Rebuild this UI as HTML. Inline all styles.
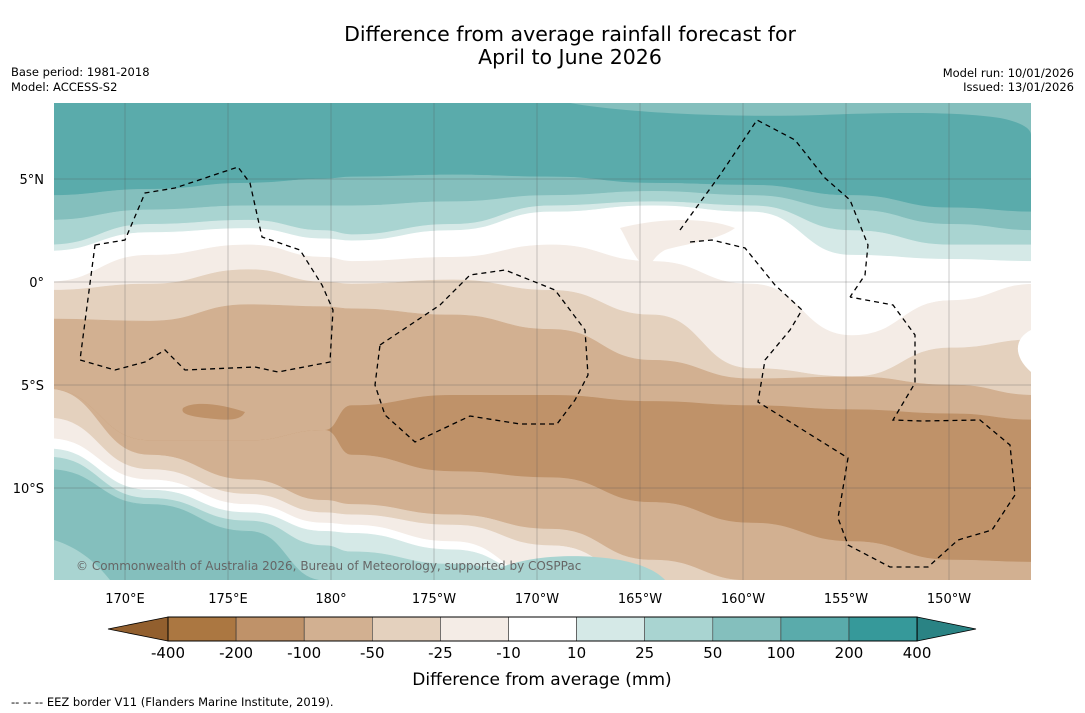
<!DOCTYPE html>
<html><head><meta charset="utf-8"><style>
body{margin:0;background:#fff;width:1085px;height:713px;overflow:hidden;font-family:"DejaVu Sans","Liberation Sans",sans-serif}
svg{display:block}
</style></head><body>
<svg id="chart" width="1085" height="713" viewBox="0 0 1085 713" xmlns="http://www.w3.org/2000/svg">
<text x="570" y="41" font-size="20.5" text-anchor="middle" fill="#000">Difference from average rainfall forecast for</text>
<text x="570" y="64" font-size="20.5" text-anchor="middle" fill="#000">April to June 2026</text>
<text x="11" y="76" font-size="11.5">Base period: 1981-2018</text>
<text x="11" y="91" font-size="11.5">Model: ACCESS-S2</text>
<text x="1074" y="77" font-size="11.5" text-anchor="end">Model run: 10/01/2026</text>
<text x="1074" y="91" font-size="11.5" text-anchor="end">Issued: 13/01/2026</text>
<defs><clipPath id="mapclip"><rect x="54" y="103" width="977" height="477"/></clipPath></defs>
<g id="map" clip-path="url(#mapclip)"></g>
<g id="axes"></g>
<g id="cbar"></g>
<text x="542" y="685" font-size="17" text-anchor="middle">Difference from average (mm)</text>
<text x="11" y="706" font-size="11.5">--  --  -- EEZ border V11 (Flanders Marine Institute, 2019).</text>
</svg>
<script>
const NS="http://www.w3.org/2000/svg";
// colour scale data
const levels=[-400,-200,-100,-50,-25,-10,10,25,50,100,200,400];
const levelColors=["#ab7741","#bf9269","#d2b091","#e4d1be","#f4ece6","#ffffff","#d5e9e7","#a9d4d1","#84bfbd","#5aabab","#36999a"];
// contour field: boundary latitudes (deg) at sample longitudes (deg east, 0-360)
const lons=[166.5,171.2,176,179.7,181,185.9,190.7,195.6,200.4,205.3,210.1,214];
const bandColorIdx=[9,8,7,6,5,4,3,2,1,2,3,4,5,6,7,8];
const boundaries=[
[4.2,4.5,4.8,5.0,5.1,5.2,5.1,4.8,4.7,4.2,3.6,3.4],
[3.0,3.5,3.7,3.7,3.7,3.9,4.2,4.4,4.2,3.5,2.8,2.5],
[1.8,2.8,3.0,2.5,2.3,2.8,3.7,3.9,3.7,2.5,1.8,1.8],
[1.5,2.4,2.6,2.1,2.0,2.5,3.4,3.7,3.4,1.3,1.1,1.0],
[0.0,1.3,1.8,1.2,1.0,1.2,1.8,1.0,-0.1,-2.6,-0.9,-0.1],
[-0.4,-0.1,0.6,0.0,-0.1,0.1,-0.4,-1.6,-4.2,-4.6,-3.2,-2.8],
[-1.8,-1.9,-1.1,-1.2,-1.3,-1.6,-2.3,-3.8,-4.7,-4.6,-5.0,-5.5],
[-5.2,-7.7,-7.7,-7.2,-6.0,-5.5,-5.5,-5.8,-6.0,-6.2,-6.4,-6.7],
[-5.2,-7.7,-7.7,-7.2,-8.4,-9.2,-9.5,-10.7,-11.7,-12.6,-13.5,-13.6],
[-5.2,-8.4,-9.6,-10.6,-10.8,-11.3,-12.0,-13.5,-14.5,-14.5,-14.5,-14.5],
[-6.6,-9.1,-10.3,-11.2,-11.3,-11.8,-12.8,-14.5,-14.5,-14.5,-14.5,-14.5],
[-7.6,-9.6,-10.8,-11.7,-11.8,-12.6,-14.5,-14.5,-14.5,-14.5,-14.5,-14.5],
[-8.1,-10.1,-11.2,-12.1,-12.2,-13.0,-14.5,-14.5,-14.5,-14.5,-14.5,-14.5],
[-8.5,-10.5,-11.6,-12.8,-13.1,-13.7,-14.5,-14.5,-14.5,-14.5,-14.5,-14.5],
[-9.1,-10.8,-12.1,-14.5,-14.5,-14.5,-14.5,-14.5,-14.5,-14.5,-14.5,-14.5]
];
const lonTicks=[170,175,180,185,190,195,200,205,210];
const lonLabels=["170°E","175°E","180°","175°W","170°W","165°W","160°W","155°W","150°W"];
const latTicks=[5,0,-5,-10];
const latLabels=["5°N","0°","5°S","10°S"];
// axis functions
const X=lon=>125+(lon-170)*20.6;
const Y=lat=>282-lat*20.6;
const mapG=document.getElementById('map');
function mk(tag,attrs,parent){const e=document.createElementNS(NS,tag);for(const k in attrs)e.setAttribute(k,attrs[k]);parent.appendChild(e);return e;}
function smooth(pts){let d="";for(let i=0;i<pts.length;i++){const p=pts[i];if(i===0){d+="M"+p[0]+","+p[1];continue;}const p0=pts[i-1];const mx=(p0[0]+p[0])/2;d+=" C"+mx+","+p0[1]+" "+mx+","+p[1]+" "+p[0]+","+p[1];}return d;}
const topEdge=lons.map(l=>[X(l),Y(9)]);
const botEdge=lons.map(l=>[X(l),Y(-16)]);
const edges=[topEdge].concat(boundaries.map(b=>b.map((v,i)=>[X(lons[i]),Y(v)]))).concat([botEdge]);
for(let b=0;b<edges.length-1;b++){
  const up=edges[b].map(p=>[p[0],p[1]]);const dn=edges[b+1].map(p=>[p[0],p[1]]);
  up[0][0]-=5;up[up.length-1][0]+=5;dn[0][0]-=5;dn[dn.length-1][0]+=5;
  let d=smooth(up);const rev=dn.slice().reverse();
  d+=" L"+rev[0][0]+","+rev[0][1]+smooth(rev).replace(/^M[^ ]+/,"")+" Z";
  const p=mk('path',{d:d,fill:levelColors[bandColorIdx[b]],stroke:levelColors[bandColorIdx[b]],'stroke-width':0.6},mapG);
  
  
}
// extra patches
const patches=[
 {c:8,d:"M570,103 C620,112 720,118 820,115 C900,112 960,112 1000,118 C1020,122 1031,128 1031,135 L1031,103 Z",n:'light-teal-patch'},
 {c:4,d:"M620,228 C650,220 700,215 735,228 C720,240 680,245 665,250 C650,258 655,268 640,262 C630,250 625,235 620,228 Z",n:'beige-patch'},
 {c:1,d:"M183,408 C195,400 225,405 245,412 C240,422 225,420 205,418 C190,416 180,414 183,408 Z",n:'dark-brown-patch'},
 {c:5,d:"M1031,330 C1015,338 1012,355 1031,372 Z",n:'white-hole'},
 {c:7,d:"M480,580 C500,560 560,550 620,560 C650,566 660,575 665,580 Z",n:'bottom-teal-patch'},
 {c:7,d:"M54,540 C70,545 90,555 110,580 L54,580 Z",n:'corner-teal-patch'}
];
patches.forEach(p=>{const e=mk('path',{d:p.d,fill:levelColors[p.c]},mapG);
 
 });
// gridlines
lonTicks.forEach(l=>{const e=mk('line',{x1:X(l),x2:X(l),y1:103,y2:580,stroke:'#555','stroke-width':0.5,'stroke-opacity':0.6},mapG);
 
 });
latTicks.forEach(l=>{const e=mk('line',{x1:54,x2:1031,y1:Y(l),y2:Y(l),stroke:'#555','stroke-width':0.5,'stroke-opacity':0.6},mapG);
 
 });
// EEZ borders
const eez=[
"M95,245 L125,240 L145,193 L175,188 L238,167 L250,183 L262,237 L300,250 L322,285 L333,310 L330,362 L278,372 L255,367 L185,370 L165,350 L145,362 L115,370 L80,360 Z",
"M380,345 L440,305 L470,275 L505,270 L555,290 L585,330 L588,375 L575,400 L557,424 L520,424 L470,416 L415,442 L385,415 L375,385 Z",
"M680,230 L720,175 L757,120 L795,140 L825,178 L850,200 L868,245 L865,275 L850,297",
"M690,242 L712,240 L745,248 L775,285 L802,310 L790,330 L765,360 L758,402 L848,458 L838,518 L848,545 L890,567 L928,567 L958,540 L992,530 L1015,495 L1010,445 L980,420 L922,421 L893,420 L915,383 L915,335 L893,305 L850,297"
];
eez.forEach(d=>{const e=mk('path',{d:d,fill:'none',stroke:'#000','stroke-width':1.3,'stroke-dasharray':'5,4'},mapG);
 
 });
const cr=mk('text',{x:76,y:570,'font-size':12,fill:'#666'},mapG);cr.textContent="© Commonwealth of Australia 2026, Bureau of Meteorology, supported by COSPPac";


// axis labels
const axes=document.getElementById('axes');
lonTicks.forEach((l,i)=>{const t=mk('text',{x:X(l),y:603,'font-size':13,'text-anchor':'middle'},axes);t.textContent=lonLabels[i];
 
 });
latTicks.forEach((l,i)=>{const t=mk('text',{x:44,y:Y(l)+5,'font-size':13,'text-anchor':'end'},axes);t.textContent=latLabels[i];
 
 });
// colorbar
const cb=document.getElementById('cbar');
const cx0=168,cw=68.1,cy=617,ch=24;
levelColors.forEach((c,i)=>{const r=mk('rect',{x:cx0+i*cw,y:cy,width:cw,height:ch,fill:c,stroke:'#333','stroke-width':0.6},cb);
 
 });
const lt=mk('path',{d:`M${cx0},${cy} L108,${cy+ch/2} L${cx0},${cy+ch} Z`,fill:'#925f2e',stroke:'#000','stroke-width':0.8},cb);


const rx=cx0+levelColors.length*cw;
const rt=mk('path',{d:`M${rx},${cy} L976,${cy+ch/2} L${rx},${cy+ch} Z`,fill:'#2a8384',stroke:'#000','stroke-width':0.8},cb);


mk('rect',{x:cx0,y:cy,width:rx-cx0,height:ch,fill:'none',stroke:'#000','stroke-width':1},cb);
levels.forEach((v,i)=>{const t=mk('text',{x:cx0+i*cw,y:658,'font-size':15,'text-anchor':'middle'},cb);t.textContent=v;
 
 });
</script>
</body></html>
